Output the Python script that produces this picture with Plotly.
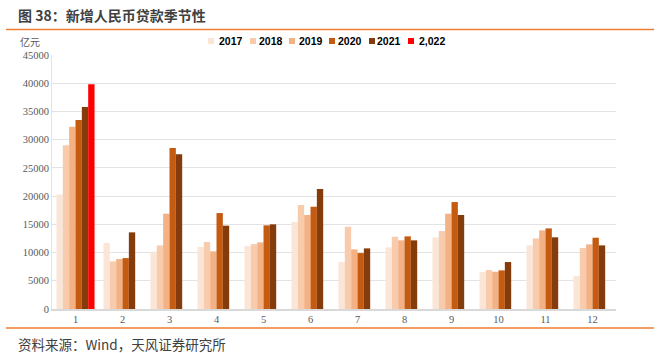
import plotly.graph_objects as go

months = ["1", "2", "3", "4", "5", "6", "7", "8", "9", "10", "11", "12"]
years = ["2017", "2018", "2019", "2020", "2021", "2,022"]
colors = ["#FBE5D6", "#F8CBAD", "#F4B183", "#C55A11", "#843C0C", "#FF0000"]

v2017 = [20300, 11700, 10150, 10980, 11150, 15400, 8320, 10920, 12700, 6540, 11270, 5830]
v2018 = [29000, 8430, 11270, 11860, 11500, 18420, 14580, 12810, 13810, 6900, 12510, 10800]
v2019 = [32300, 8840, 16890, 10210, 11800, 16650, 10560, 12160, 16880, 6600, 13930, 11450]
v2020 = [33500, 9020, 28530, 17000, 14820, 18120, 9910, 12870, 18950, 6840, 14280, 12630]
v2021 = [35800, 13580, 27410, 14760, 15000, 21260, 10740, 12160, 16650, 8320, 12700, 11270]
v2022 = [39800, None, None, None, None, None, None, None, None, None, None, None]

series = [v2017, v2018, v2019, v2020, v2021, v2022]

W, H = 663, 353
L, R, T, B = 52, 47, 55, 44
PW, PH = W - L - R, H - T - B


def px(x):
    return (x - L) / PW


def py(y):
    return (H - B - y) / PH


fig = go.Figure()
for name, vals, col in zip(years, series, colors):
    fig.add_trace(go.Bar(x=months, y=vals, name=name, marker=dict(color=col, line=dict(width=0)),
                         showlegend=False))

fig.update_layout(
    width=W, height=H,
    margin=dict(l=L, r=R, t=T, b=B),
    paper_bgcolor="white", plot_bgcolor="white",
    barmode="group", bargap=0.19, bargroupgap=0,
    font=dict(family="Liberation Serif", color="#595959"),
)
fig.update_xaxes(type="category", showgrid=False, showline=True, linecolor="#D9D9D9", linewidth=1.5,
                 ticks="", tickfont=dict(family="Liberation Serif", size=10.5, color="#595959"))
fig.update_yaxes(range=[0, 45000], dtick=5000, tickformat="d", showgrid=True, gridcolor="#E3E3E3", gridwidth=1,
                 showline=True, linecolor="#E3E3E3", zeroline=False, ticks="",
                 tickfont=dict(family="Liberation Serif", size=10.5, color="#595959"))

anns = []
shapes = []
# title
anns.append(dict(x=px(16), y=py(15), xref="paper", yref="paper", xanchor="left", yanchor="middle",
                 text="<b>图 38：新增人民币贷款季节性</b>", showarrow=False,
                 font=dict(family="Noto Sans CJK SC", size=14, color="#404040")))
# source
anns.append(dict(x=px(16), y=py(344), xref="paper", yref="paper", xanchor="left", yanchor="middle",
                 text="资料来源：Wind，天风证券研究所", showarrow=False,
                 font=dict(family="Noto Sans CJK SC", size=13.5, color="#404040")))
# unit
anns.append(dict(x=px(30), y=py(41), xref="paper", yref="paper", xanchor="center", yanchor="middle",
                 text="亿元", showarrow=False,
                 font=dict(family="Noto Sans CJK SC", size=10, color="#595959")))
# orange rules
for yy in (29.5, 328):
    shapes.append(dict(type="line", xref="paper", yref="paper", x0=px(6), x1=px(654), y0=py(yy), y1=py(yy),
                       line=dict(color="#ED7D31", width=1.5)))
# legend (manual)
sq_x = [208, 250, 289, 329, 369, 408]
tx_x = [217, 257, 297, 336, 375, 417]
for name, col, sx, tx in zip(years, colors, sq_x, tx_x):
    shapes.append(dict(type="rect", xref="paper", yref="paper", x0=px(sx), x1=px(sx + 6),
                       y0=py(44), y1=py(38), fillcolor=col, line=dict(width=0)))
    anns.append(dict(x=px(tx), y=py(41), xref="paper", yref="paper", xanchor="left", yanchor="middle",
                     text="<b>" + name + "</b>", showarrow=False,
                     font=dict(family="Liberation Sans", size=10.5, color="#000000")))

fig.update_layout(annotations=anns, shapes=shapes)
fig.write_html("out.html")
